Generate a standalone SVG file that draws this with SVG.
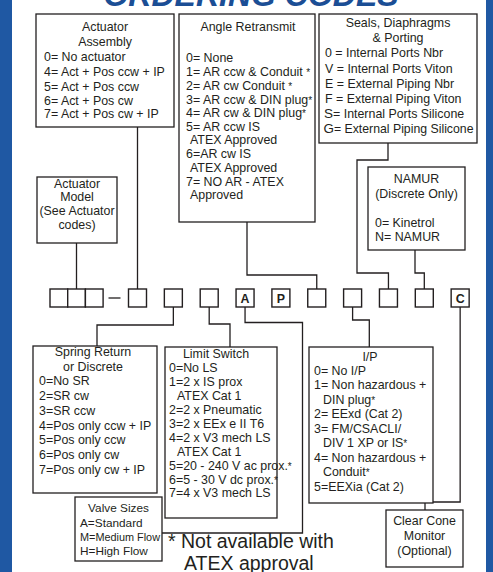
<svg xmlns="http://www.w3.org/2000/svg" width="493" height="572" viewBox="0 0 493 572">
<style>
.bg{fill:#ffffff}
.blue{fill:#1f58a3}
.title{font-family:"Liberation Sans",Arial,sans-serif;font-size:32px;font-weight:bold;font-style:italic;fill:#1b4e95;text-anchor:middle}
.box{fill:#ffffff;stroke:#231f20;stroke-width:1.3}
.sq{fill:#ffffff;stroke:#231f20;stroke-width:1.4}
.t{font-family:"Liberation Sans",Arial,sans-serif;font-size:12.4px;fill:#231f20}
.v{font-size:11.8px}
.c{text-anchor:middle}
.b{font-weight:bold}
.ast{font-size:10px}
.big{font-size:13.5px}
.note{font-family:"Liberation Sans",Arial,sans-serif;font-size:19.5px;fill:#231f20}
.wire{fill:none;stroke:#231f20;stroke-width:1.3}
</style>
<rect class="bg" x="0" y="0" width="493" height="572"/>
<rect class="blue" x="0" y="0" width="12" height="572"/>
<rect class="blue" x="486" y="0" width="7" height="572"/>
<text class="title" x="251" y="6">ORDERING CODES</text>

<g id="connectors">
<path class="wire" d="M76.5,243 V289"/>
<path class="wire" d="M137.5,127 V289"/>
<path class="wire" d="M247,222 V275 H316.75 V289"/>
<path class="wire" d="M388,143 V160 H357 V273 H388.45 V289"/>
<path class="wire" d="M415,250 V273 H424.3 V289"/>
<path class="wire" d="M173.35,307 V325 H97 V346"/>
<path class="wire" d="M209.2,307 V324 H230 V347"/>
<path class="wire" d="M245.05,307 V322.5 H302.5 V533 H162"/>
<path class="wire" d="M352.6,307 V320 H369.3 V347"/>
<path class="wire" d="M460.15,307 V502 H425 V510"/>
<line class="wire" x1="108.5" y1="298" x2="120.5" y2="298"/>
</g>

<g id="actuator-assembly">
<rect class="box" x="36" y="14" width="138" height="113"/>
<text class="t c" x="105" y="31">Actuator</text>
<text class="t c" x="105" y="46">Assembly</text>
<text class="t" x="44" y="61">0= No actuator</text>
<text class="t" x="44" y="76">4= Act + Pos ccw + IP</text>
<text class="t" x="44" y="90.5">5= Act + Pos ccw</text>
<text class="t" x="44" y="104.5">6= Act + Pos cw</text>
<text class="t" x="44" y="117.5">7= Act + Pos cw + IP</text>
</g>

<g id="angle-retransmit">
<rect class="box" x="179" y="14" width="136" height="208"/>
<text class="t c" x="248" y="31">Angle Retransmit</text>
<text class="t" x="186" y="62">0= None</text>
<text class="t" x="186" y="76">1= AR ccw &amp; Conduit <tspan class="ast">*</tspan></text>
<text class="t" x="186" y="90">2= AR cw Conduit <tspan class="ast">*</tspan></text>
<text class="t" x="186" y="103.5">3= AR ccw &amp; DIN plug<tspan class="ast">*</tspan></text>
<text class="t" x="186" y="117">4= AR cw &amp; DIN plug<tspan class="ast">*</tspan></text>
<text class="t" x="186" y="130.5">5= AR ccw IS</text>
<text class="t" x="190" y="144">ATEX Approved</text>
<text class="t" x="186" y="158">6=AR cw IS</text>
<text class="t" x="190" y="172">ATEX Approved</text>
<text class="t" x="186" y="185.5">7= NO AR - ATEX</text>
<text class="t" x="190" y="199">Approved</text>
</g>

<g id="seals">
<rect class="box" x="319" y="14" width="158" height="129"/>
<text class="t c" x="398" y="27">Seals, Diaphragms</text>
<text class="t c" x="398" y="42">&amp; Porting</text>
<text class="t" x="325" y="57">0 = Internal Ports Nbr</text>
<text class="t" x="325" y="72.5">V = Internal Ports Viton</text>
<text class="t" x="325" y="87.5">E = External Piping Nbr</text>
<text class="t" x="325" y="102.5">F = External Piping Viton</text>
<text class="t" x="324" y="117.5"><tspan class="big">S</tspan>= Internal Ports Silicone</text>
<text class="t" x="323.5" y="132.5" textLength="150" lengthAdjust="spacingAndGlyphs"><tspan class="big">G</tspan>= External Piping Silicone</text>
</g>

<g id="namur">
<rect class="box" x="368" y="167" width="97" height="83"/>
<text class="t c" x="416.5" y="183">NAMUR</text>
<text class="t c" x="416.5" y="198">(Discrete Only)</text>
<text class="t" x="375" y="227">0= Kinetrol</text>
<text class="t" x="375" y="241">N= NAMUR</text>
</g>

<g id="actuator-model">
<rect class="box" x="37" y="177" width="80" height="66"/>
<text class="t c" x="77" y="188">Actuator</text>
<text class="t c" x="77" y="201">Model</text>
<text class="t c" x="77" y="215">(See Actuator</text>
<text class="t c" x="77" y="229">codes)</text>
</g>

<g id="code-boxes">
<rect class="sq" x="50" y="289" width="17.7" height="18"/>
<rect class="sq" x="67.7" y="289" width="17.7" height="18"/>
<rect class="sq" x="85.4" y="289" width="17.7" height="18"/>
<rect class="sq" x="128.5" y="289" width="18" height="18"/>
<rect class="sq" x="164.35" y="289" width="18" height="18"/>
<rect class="sq" x="200.2" y="289" width="18" height="18"/>
<rect class="sq" x="236.05" y="289" width="18" height="18"/>
<text class="t c b" x="245.05" y="303">A</text>
<rect class="sq" x="271.9" y="289" width="18" height="18"/>
<text class="t c b" x="280.9" y="303">P</text>
<rect class="sq" x="307.75" y="289" width="18" height="18"/>
<rect class="sq" x="343.6" y="289" width="18" height="18"/>
<rect class="sq" x="379.45" y="289" width="18" height="18"/>
<rect class="sq" x="415.3" y="289" width="18" height="18"/>
<rect class="sq" x="451.15" y="289" width="18" height="18"/>
<text class="t c b" x="460.15" y="303">C</text>
</g>

<g id="spring-return">
<rect class="box" x="33" y="346" width="124" height="147"/>
<text class="t c" x="93" y="356">Spring Return</text>
<text class="t c" x="93" y="370.5">or Discrete</text>
<text class="t" x="39" y="385">0=No SR</text>
<text class="t" x="39" y="400">2=SR cw</text>
<text class="t" x="39" y="414.5">3=SR ccw</text>
<text class="t" x="39" y="429.5">4=Pos only ccw + IP</text>
<text class="t" x="39" y="444">5=Pos only ccw</text>
<text class="t" x="39" y="458.5">6=Pos only cw</text>
<text class="t" x="39" y="473.5">7=Pos only cw + IP</text>
</g>

<g id="limit-switch">
<rect class="box" x="165" y="347" width="112" height="171"/>
<text class="t c" x="216" y="357.5">Limit Switch</text>
<text class="t" x="169" y="372">0=No LS</text>
<text class="t" x="169" y="386">1=2 x IS prox</text>
<text class="t" x="177" y="400">ATEX Cat 1</text>
<text class="t" x="169" y="414">2=2 x Pneumatic</text>
<text class="t" x="169" y="427.5">3=2 x EEx e II T6</text>
<text class="t" x="169" y="441.5">4=2 x V3 mech LS</text>
<text class="t" x="177" y="455.5">ATEX Cat 1</text>
<text class="t" x="169" y="469.5">5=20 - 240 V ac prox.<tspan class="ast">*</tspan></text>
<text class="t" x="169" y="483.5">6=5 - 30 V dc prox.<tspan class="ast">*</tspan></text>
<text class="t" x="169" y="497">7=4 x V3 mech LS</text>
</g>

<g id="ip">
<rect class="box" x="309" y="347" width="124" height="156"/>
<text class="t c" x="370" y="360.5">I/P</text>
<text class="t" x="314" y="374.5">0= No I/P</text>
<text class="t" x="314" y="389">1= Non hazardous +</text>
<text class="t" x="323" y="403.5">DIN plug<tspan class="ast">*</tspan></text>
<text class="t" x="314" y="418">2= EExd (Cat 2)</text>
<text class="t" x="314" y="432.5">3= FM/CSACLI/</text>
<text class="t" x="323" y="447">DIV 1 XP or IS<tspan class="ast">*</tspan></text>
<text class="t" x="314" y="461.5">4= Non hazardous +</text>
<text class="t" x="323" y="476">Conduit<tspan class="ast">*</tspan></text>
<text class="t" x="314" y="490.5">5=EEXia (Cat 2)</text>
</g>

<g id="valve-sizes">
<rect class="box" x="75" y="497" width="87" height="64"/>
<text class="t v c" x="118.5" y="512">Valve Sizes</text>
<text class="t v" x="80" y="527">A=Standard</text>
<text class="t v" x="80" y="541" textLength="80" lengthAdjust="spacingAndGlyphs">M=Medium Flow</text>
<text class="t v" x="80" y="555">H=High Flow</text>
</g>

<g id="clear-cone">
<rect class="box" x="386" y="510" width="77" height="57"/>
<text class="t c" x="424.5" y="525">Clear Cone</text>
<text class="t c" x="424.5" y="540">Monitor</text>
<text class="t c" x="424.5" y="555">(Optional)</text>
</g>

<g id="note">
<text class="note" x="168" y="548">* Not available with</text>
<text class="note" x="184" y="570">ATEX approval</text>
</g>
</svg>
